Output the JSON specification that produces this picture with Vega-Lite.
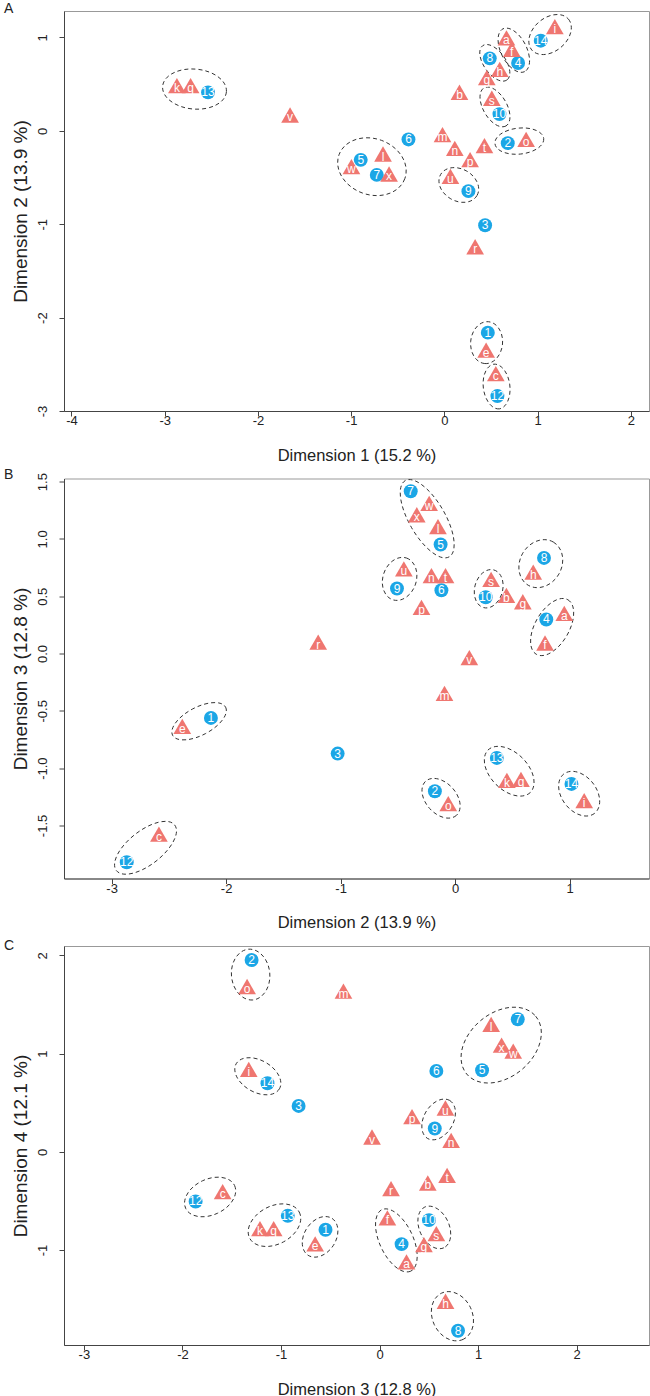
{
  "$schema": "https://vega.github.io/schema/vega-lite/v6.json",
  "padding": {"left": 3, "top": 1, "right": 0, "bottom": 0},
  "background": "white",
  "spacing": 67.5,
  "bounds": "flush",
  "resolve": {"scale": {"shape": "independent"}},
  "config": {
    "font": "Liberation Sans",
    "view": {"stroke": "#999999", "strokeWidth": 1},
    "axis": {"grid": false, "domainColor": "#444444", "tickColor": "#444444", "tickSize": 5, "labelFontSize": 13, "labelColor": "#222222", "titleFontWeight": "normal", "titleColor": "#222222", "labelFlush": false, "labelOverlap": false, "labelExpr": "replace(datum.label, '\u2212', '-')"},
    "axisX": {"titleFontSize": 16.5, "labelPadding": -1.5, "titlePadding": 19.5},
    "axisY": {"titleFontSize": 19, "labelAngle": -90, "labelPadding": 9.5, "titlePadding": 6.5},
    "title": {"fontSize": 14, "fontWeight": "normal", "anchor": "start", "frame": "group", "dx": -60, "color": "#222222"}
  },
  "datasets": {
    "pts": [
      {"p":"A","id":"1","t":"c","x":0.466,"y":-2.161},
      {"p":"A","id":"2","t":"c","x":0.680,"y":-0.132},
      {"p":"A","id":"3","t":"c","x":0.437,"y":-1.011},
      {"p":"A","id":"4","t":"c","x":0.791,"y":0.726},
      {"p":"A","id":"5","t":"c","x":-0.897,"y":-0.311},
      {"p":"A","id":"6","t":"c","x":-0.385,"y":-0.092},
      {"p":"A","id":"7","t":"c","x":-0.725,"y":-0.472},
      {"p":"A","id":"8","t":"c","x":0.487,"y":0.776},
      {"p":"A","id":"9","t":"c","x":0.258,"y":-0.646},
      {"p":"A","id":"10","t":"c","x":0.591,"y":0.179},
      {"p":"A","id":"12","t":"c","x":0.569,"y":-2.840},
      {"p":"A","id":"13","t":"c","x":-2.535,"y":0.412},
      {"p":"A","id":"14","t":"c","x":1.034,"y":0.965},
      {"p":"A","id":"a","t":"t","x":0.666,"y":0.969},
      {"p":"A","id":"b","t":"t","x":0.162,"y":0.386},
      {"p":"A","id":"c","t":"t","x":0.552,"y":-2.626},
      {"p":"A","id":"e","t":"t","x":0.448,"y":-2.375},
      {"p":"A","id":"f","t":"t","x":0.723,"y":0.847},
      {"p":"A","id":"g","t":"t","x":0.455,"y":0.543},
      {"p":"A","id":"h","t":"t","x":0.594,"y":0.632},
      {"p":"A","id":"i","t":"t","x":1.185,"y":1.088},
      {"p":"A","id":"k","t":"t","x":-2.869,"y":0.458},
      {"p":"A","id":"l","t":"t","x":-0.658,"y":-0.275},
      {"p":"A","id":"m","t":"t","x":-0.020,"y":-0.068},
      {"p":"A","id":"n","t":"t","x":0.112,"y":-0.214},
      {"p":"A","id":"o","t":"t","x":0.877,"y":-0.118},
      {"p":"A","id":"p","t":"t","x":0.276,"y":-0.335},
      {"p":"A","id":"q","t":"t","x":-2.722,"y":0.458},
      {"p":"A","id":"r","t":"t","x":0.330,"y":-1.268},
      {"p":"A","id":"s","t":"t","x":0.509,"y":0.322},
      {"p":"A","id":"t","t":"t","x":0.430,"y":-0.185},
      {"p":"A","id":"u","t":"t","x":0.065,"y":-0.514},
      {"p":"A","id":"v","t":"t","x":-1.655,"y":0.143},
      {"p":"A","id":"w","t":"t","x":-0.997,"y":-0.410},
      {"p":"A","id":"x","t":"t","x":-0.593,"y":-0.489},
      {"p":"B","id":"1","t":"c","x":-2.133,"y":-0.562},
      {"p":"B","id":"2","t":"c","x":-0.177,"y":-1.202},
      {"p":"B","id":"3","t":"c","x":-1.026,"y":-0.873},
      {"p":"B","id":"4","t":"c","x":0.796,"y":0.297},
      {"p":"B","id":"5","t":"c","x":-0.127,"y":0.951},
      {"p":"B","id":"6","t":"c","x":-0.120,"y":0.552},
      {"p":"B","id":"7","t":"c","x":-0.388,"y":1.416},
      {"p":"B","id":"8","t":"c","x":0.776,"y":0.834},
      {"p":"B","id":"9","t":"c","x":-0.508,"y":0.567},
      {"p":"B","id":"10","t":"c","x":0.267,"y":0.491},
      {"p":"B","id":"12","t":"c","x":-2.868,"y":-1.821},
      {"p":"B","id":"13","t":"c","x":0.364,"y":-0.911},
      {"p":"B","id":"14","t":"c","x":1.016,"y":-1.138},
      {"p":"B","id":"a","t":"t","x":0.953,"y":0.328},
      {"p":"B","id":"b","t":"t","x":0.448,"y":0.485},
      {"p":"B","id":"c","t":"t","x":-2.587,"y":-1.597},
      {"p":"B","id":"e","t":"t","x":-2.383,"y":-0.658},
      {"p":"B","id":"f","t":"t","x":0.785,"y":0.070},
      {"p":"B","id":"g","t":"t","x":0.591,"y":0.430},
      {"p":"B","id":"h","t":"t","x":0.682,"y":0.689},
      {"p":"B","id":"i","t":"t","x":1.127,"y":-1.306},
      {"p":"B","id":"k","t":"t","x":0.452,"y":-1.129},
      {"p":"B","id":"l","t":"t","x":-0.150,"y":1.085},
      {"p":"B","id":"m","t":"t","x":-0.093,"y":-0.370},
      {"p":"B","id":"n","t":"t","x":-0.207,"y":0.657},
      {"p":"B","id":"o","t":"t","x":-0.060,"y":-1.332},
      {"p":"B","id":"p","t":"t","x":-0.294,"y":0.380},
      {"p":"B","id":"q","t":"t","x":0.575,"y":-1.120},
      {"p":"B","id":"r","t":"t","x":-1.196,"y":0.078},
      {"p":"B","id":"s","t":"t","x":0.314,"y":0.625},
      {"p":"B","id":"t","t":"t","x":-0.084,"y":0.657},
      {"p":"B","id":"u","t":"t","x":-0.448,"y":0.716},
      {"p":"B","id":"v","t":"t","x":0.124,"y":-0.058},
      {"p":"B","id":"w","t":"t","x":-0.227,"y":1.288},
      {"p":"B","id":"x","t":"t","x":-0.335,"y":1.189},
      {"p":"C","id":"1","t":"c","x":-0.548,"y":-0.794},
      {"p":"C","id":"2","t":"c","x":-1.298,"y":1.952},
      {"p":"C","id":"3","t":"c","x":-0.821,"y":0.467},
      {"p":"C","id":"4","t":"c","x":0.224,"y":-0.940},
      {"p":"C","id":"5","t":"c","x":1.041,"y":0.830},
      {"p":"C","id":"6","t":"c","x":0.577,"y":0.823},
      {"p":"C","id":"7","t":"c","x":1.403,"y":1.349},
      {"p":"C","id":"8","t":"c","x":0.797,"y":-1.822},
      {"p":"C","id":"9","t":"c","x":0.561,"y":0.237},
      {"p":"C","id":"10","t":"c","x":0.502,"y":-0.696},
      {"p":"C","id":"12","t":"c","x":-1.866,"y":-0.506},
      {"p":"C","id":"13","t":"c","x":-0.931,"y":-0.652},
      {"p":"C","id":"14","t":"c","x":-1.137,"y":0.698},
      {"p":"C","id":"a","t":"t","x":0.274,"y":-1.147},
      {"p":"C","id":"b","t":"t","x":0.490,"y":-0.343},
      {"p":"C","id":"c","t":"t","x":-1.592,"y":-0.431},
      {"p":"C","id":"e","t":"t","x":-0.653,"y":-0.963},
      {"p":"C","id":"f","t":"t","x":0.080,"y":-0.699},
      {"p":"C","id":"g","t":"t","x":0.451,"y":-0.971},
      {"p":"C","id":"h","t":"t","x":0.670,"y":-1.547},
      {"p":"C","id":"i","t":"t","x":-1.327,"y":0.813},
      {"p":"C","id":"k","t":"t","x":-1.213,"y":-0.808},
      {"p":"C","id":"l","t":"t","x":1.133,"y":1.271},
      {"p":"C","id":"m","t":"t","x":-0.366,"y":1.610},
      {"p":"C","id":"n","t":"t","x":0.727,"y":0.091},
      {"p":"C","id":"o","t":"t","x":-1.344,"y":1.657},
      {"p":"C","id":"p","t":"t","x":0.330,"y":0.332},
      {"p":"C","id":"q","t":"t","x":-1.074,"y":-0.808},
      {"p":"C","id":"r","t":"t","x":0.117,"y":-0.401},
      {"p":"C","id":"s","t":"t","x":0.577,"y":-0.859},
      {"p":"C","id":"t","t":"t","x":0.686,"y":-0.265},
      {"p":"C","id":"u","t":"t","x":0.669,"y":0.420},
      {"p":"C","id":"v","t":"t","x":-0.076,"y":0.125},
      {"p":"C","id":"w","t":"t","x":1.357,"y":1.000},
      {"p":"C","id":"x","t":"t","x":1.239,"y":1.061}
    ],
    "ells": [
      {"p":"A","e":"A1","x":-2.680,"y":0.447},
      {"p":"A","e":"A2","x":1.134,"y":1.031},
      {"p":"A","e":"A3","x":0.745,"y":0.863},
      {"p":"A","e":"A4","x":0.541,"y":0.728},
      {"p":"A","e":"A5","x":0.543,"y":0.256},
      {"p":"A","e":"A6","x":0.804,"y":-0.110},
      {"p":"A","e":"A7","x":-0.777,"y":-0.384},
      {"p":"A","e":"A8","x":0.155,"y":-0.580},
      {"p":"A","e":"A9","x":0.453,"y":-2.268},
      {"p":"A","e":"A10","x":0.560,"y":-2.738},
      {"p":"B","e":"B1","x":-0.244,"y":1.176},
      {"p":"B","e":"B2","x":-0.485,"y":0.651},
      {"p":"B","e":"B3","x":0.293,"y":0.565},
      {"p":"B","e":"B4","x":0.748,"y":0.784},
      {"p":"B","e":"B5","x":0.847,"y":0.231},
      {"p":"B","e":"B6","x":-2.236,"y":-0.591},
      {"p":"B","e":"B7","x":0.472,"y":-1.027},
      {"p":"B","e":"B8","x":1.083,"y":-1.223},
      {"p":"B","e":"B9","x":-0.123,"y":-1.263},
      {"p":"B","e":"B10","x":-2.704,"y":-1.695},
      {"p":"C","e":"C1","x":-1.308,"y":1.804},
      {"p":"C","e":"C2","x":1.235,"y":1.086},
      {"p":"C","e":"C3","x":-1.235,"y":0.769},
      {"p":"C","e":"C4","x":0.600,"y":0.329},
      {"p":"C","e":"C5","x":-1.719,"y":-0.460},
      {"p":"C","e":"C6","x":-1.066,"y":-0.747},
      {"p":"C","e":"C7","x":-0.603,"y":-0.866},
      {"p":"C","e":"C8","x":0.171,"y":-0.902},
      {"p":"C","e":"C9","x":0.556,"y":-0.770},
      {"p":"C","e":"C10","x":0.740,"y":-1.674}
    ]
  },
  "vconcat": [
    {
      "width": 585, "height": 400,
      "title": {"text": "A", "offset": -5},
      "layer": [
        {"mark": {"type": "rule", "strokeDash": [1.5, 2], "color": "#111111", "strokeWidth": 1},
         "encoding": {"x": {"datum": 0, "type": "quantitative", "scale": {"domain": [-4.08, 2.195], "zero": false, "nice": false}, "axis": {"title": "Dimension 1 (15.2 %)", "values": [-4, -3, -2, -1, 0, 1, 2], "format": "d"}}}},
        {"mark": {"type": "rule", "strokeDash": [1.5, 2], "color": "#111111", "strokeWidth": 1},
         "encoding": {"y": {"datum": 0, "type": "quantitative", "scale": {"domain": [-3.0, 1.283], "zero": false, "nice": false}, "axis": {"title": "Dimension 2 (13.9 %)", "values": [-3, -2, -1, 0, 1], "format": "d"}}}},
        {"data": {"name": "ells"}, "transform": [{"filter": "datum.p == 'A'"}],
         "mark": {"type": "point", "size": 4, "filled": false, "stroke": "#333333", "strokeWidth": 1, "strokeDash": [4, 3], "opacity": 1},
         "encoding": {
           "x": {"field": "x", "type": "quantitative"},
           "y": {"field": "y", "type": "quantitative"},
           "shape": {"field": "e", "type": "nominal", "legend": null, "scale": {
             "domain": ["A1","A2","A3","A4","A5","A6","A7","A8","A9","A10"],
             "range": [
               "M 31.88 2.79 A 32 20 5 0 1 -31.88 -2.79 A 32 20 5 0 1 31.88 2.79 Z",
               "M 18.38 -15.43 A 24 17 -40 0 1 -18.38 15.43 A 24 17 -40 0 1 18.38 -15.43 Z",
               "M 10.9 21.38 A 24 13 63 0 1 -10.9 -21.38 A 24 13 63 0 1 10.9 21.38 Z",
               "M 12.05 17.2 A 21 11 55 0 1 -12.05 -17.2 A 21 11 55 0 1 12.05 17.2 Z",
               "M 11 19.05 A 22 12 60 0 1 -11 -19.05 A 22 12 60 0 1 11 19.05 Z",
               "M 24.37 -2.56 A 24.5 13 -6 0 1 -24.37 2.56 A 24.5 13 -6 0 1 24.37 -2.56 Z",
               "M 32.89 11.97 A 35 28 20 0 1 -32.89 -11.97 A 35 28 20 0 1 32.89 11.97 Z",
               "M 18.19 10.5 A 21 16 30 0 1 -18.19 -10.5 A 21 16 30 0 1 18.19 10.5 Z",
               "M -1.83 20.92 A 21 16 95 0 1 1.83 -20.92 A 21 16 95 0 1 -1.83 20.92 Z",
               "M 2.74 22.33 A 22.5 13.5 83 0 1 -2.74 -22.33 A 22.5 13.5 83 0 1 2.74 22.33 Z"
             ]}}
         }},
        {"data": {"name": "pts"}, "transform": [{"filter": "datum.p == 'A' && datum.t == 'c'"}],
         "mark": {"type": "circle", "size": 194, "color": "#1BA6E6", "opacity": 1},
         "encoding": {"x": {"field": "x", "type": "quantitative"}, "y": {"field": "y", "type": "quantitative"}}},
        {"data": {"name": "pts"}, "transform": [{"filter": "datum.p == 'A' && datum.t == 't'"}],
         "mark": {"type": "point", "shape": "triangle-up", "filled": true, "size": 313, "color": "#EF7670", "opacity": 1, "yOffset": -2.5},
         "encoding": {"x": {"field": "x", "type": "quantitative"}, "y": {"field": "y", "type": "quantitative"}}},
        {"data": {"name": "pts"}, "transform": [{"filter": "datum.p == 'A'"}],
         "mark": {"type": "text", "color": "white", "fontSize": 12, "align": "center", "baseline": "middle"},
         "encoding": {"x": {"field": "x", "type": "quantitative"}, "y": {"field": "y", "type": "quantitative"}, "text": {"field": "id"}}}
      ]
    },
    {
      "width": 585, "height": 400,
      "title": {"text": "B", "offset": -9},
      "layer": [
        {"mark": {"type": "rule", "strokeDash": [1.5, 2], "color": "#111111", "strokeWidth": 1},
         "encoding": {"x": {"datum": 0, "type": "quantitative", "scale": {"domain": [-3.416, 1.693], "zero": false, "nice": false}, "axis": {"title": "Dimension 2 (13.9 %)", "values": [-3, -2, -1, 0, 1], "format": "d"}}}},
        {"mark": {"type": "rule", "strokeDash": [1.5, 2], "color": "#111111", "strokeWidth": 1},
         "encoding": {"y": {"datum": 0, "type": "quantitative", "scale": {"domain": [-1.963, 1.527], "zero": false, "nice": false}, "axis": {"title": "Dimension 3 (12.8 %)", "values": [-1.5, -1, -0.5, 0, 0.5, 1, 1.5], "format": ".1f"}}}},
        {"data": {"name": "ells"}, "transform": [{"filter": "datum.p == 'B'"}],
         "mark": {"type": "point", "size": 4, "filled": false, "stroke": "#333333", "strokeWidth": 1, "strokeDash": [4, 3], "opacity": 1},
         "encoding": {
           "x": {"field": "x", "type": "quantitative"},
           "y": {"field": "y", "type": "quantitative"},
           "shape": {"field": "e", "type": "nominal", "legend": null, "scale": {
             "domain": ["B1","B2","B3","B4","B5","B6","B7","B8","B9","B10"],
             "range": [
               "M 22 38.11 A 44 18 60 0 1 -22 -38.11 A 44 18 60 0 1 22 38.11 Z",
               "M 6.8 -20.92 A 22 17 -72 0 1 -6.8 20.92 A 22 17 -72 0 1 6.8 -20.92 Z",
               "M 5.05 -18.84 A 19.5 14 -75 0 1 -5.05 18.84 A 19.5 14 -75 0 1 5.05 -18.84 Z",
               "M 12.5 -21.65 A 25 21 -60 0 1 -12.5 21.65 A 25 21 -60 0 1 12.5 -21.65 Z",
               "M 15.75 -27.28 A 31.5 17 -60 0 1 -15.75 27.28 A 31.5 17 -60 0 1 15.75 -27.28 Z",
               "M 26.49 -14.08 A 30 14 -28 0 1 -26.49 14.08 A 30 14 -28 0 1 26.49 -14.08 Z",
               "M 21.21 21.21 A 30 19 45 0 1 -21.21 -21.21 A 30 19 45 0 1 21.21 21.21 Z",
               "M 15.39 19.7 A 25 17.5 52 0 1 -15.39 -19.7 A 25 17.5 52 0 1 15.39 19.7 Z",
               "M 15.39 17.09 A 23 15.5 48 0 1 -15.39 -17.09 A 23 15.5 48 0 1 15.39 17.09 Z",
               "M 29.16 -22.78 A 37 17 -38 0 1 -29.16 22.78 A 37 17 -38 0 1 29.16 -22.78 Z"
             ]}}
         }},
        {"data": {"name": "pts"}, "transform": [{"filter": "datum.p == 'B' && datum.t == 'c'"}],
         "mark": {"type": "circle", "size": 194, "color": "#1BA6E6", "opacity": 1},
         "encoding": {"x": {"field": "x", "type": "quantitative"}, "y": {"field": "y", "type": "quantitative"}}},
        {"data": {"name": "pts"}, "transform": [{"filter": "datum.p == 'B' && datum.t == 't'"}],
         "mark": {"type": "point", "shape": "triangle-up", "filled": true, "size": 313, "color": "#EF7670", "opacity": 1, "yOffset": -2.5},
         "encoding": {"x": {"field": "x", "type": "quantitative"}, "y": {"field": "y", "type": "quantitative"}}},
        {"data": {"name": "pts"}, "transform": [{"filter": "datum.p == 'B'"}],
         "mark": {"type": "text", "color": "white", "fontSize": 12, "align": "center", "baseline": "middle"},
         "encoding": {"x": {"field": "x", "type": "quantitative"}, "y": {"field": "y", "type": "quantitative"}, "text": {"field": "id"}}}
      ]
    },
    {
      "width": 585, "height": 399,
      "title": {"text": "C", "offset": -7},
      "layer": [
        {"mark": {"type": "rule", "strokeDash": [1.5, 2], "color": "#111111", "strokeWidth": 1},
         "encoding": {"x": {"datum": 0, "type": "quantitative", "scale": {"domain": [-3.202, 2.735], "zero": false, "nice": false}, "axis": {"title": "Dimension 3 (12.8 %)", "values": [-3, -2, -1, 0, 1, 2], "format": "d"}}}},
        {"mark": {"type": "rule", "strokeDash": [1.5, 2], "color": "#111111", "strokeWidth": 1},
         "encoding": {"y": {"datum": 0, "type": "quantitative", "scale": {"domain": [-1.967, 2.095], "zero": false, "nice": false}, "axis": {"title": "Dimension 4 (12.1 %)", "values": [-1, 0, 1, 2], "format": "d"}}}},
        {"data": {"name": "ells"}, "transform": [{"filter": "datum.p == 'C'"}],
         "mark": {"type": "point", "size": 4, "filled": false, "stroke": "#333333", "strokeWidth": 1, "strokeDash": [4, 3], "opacity": 1},
         "encoding": {
           "x": {"field": "x", "type": "quantitative"},
           "y": {"field": "y", "type": "quantitative"},
           "shape": {"field": "e", "type": "nominal", "legend": null, "scale": {
             "domain": ["C1","C2","C3","C4","C5","C6","C7","C8","C9","C10"],
             "range": [
               "M 2.22 25.4 A 25.5 19.5 85 0 1 -2.22 -25.4 A 25.5 19.5 85 0 1 2.22 25.4 Z",
               "M 34.47 -28.93 A 45 32 -40 0 1 -34.47 28.93 A 45 32 -40 0 1 34.47 -28.93 Z",
               "M 21.65 12.5 A 25 16 30 0 1 -21.65 -12.5 A 25 16 30 0 1 21.65 12.5 Z",
               "M 11 -19.05 A 22 15 -60 0 1 -11 19.05 A 22 15 -60 0 1 11 -19.05 Z",
               "M 24.47 -11.41 A 27 18 -25 0 1 -24.47 11.41 A 27 18 -25 0 1 24.47 -11.41 Z",
               "M 24.72 -13.15 A 28 19 -28 0 1 -24.72 13.15 A 28 19 -28 0 1 24.72 -13.15 Z",
               "M 11.98 -18.45 A 22 16 -57 0 1 -11.98 18.45 A 22 16 -57 0 1 11.98 -18.45 Z",
               "M 14.37 30.81 A 34 17 65 0 1 -14.37 -30.81 A 34 17 65 0 1 14.37 30.81 Z",
               "M 9.51 20.39 A 22.5 15 65 0 1 -9.51 -20.39 A 22.5 15 65 0 1 9.51 20.39 Z",
               "M 10.78 23.11 A 25.5 20 65 0 1 -10.78 -23.11 A 25.5 20 65 0 1 10.78 23.11 Z"
             ]}}
         }},
        {"data": {"name": "pts"}, "transform": [{"filter": "datum.p == 'C' && datum.t == 'c'"}],
         "mark": {"type": "circle", "size": 194, "color": "#1BA6E6", "opacity": 1},
         "encoding": {"x": {"field": "x", "type": "quantitative"}, "y": {"field": "y", "type": "quantitative"}}},
        {"data": {"name": "pts"}, "transform": [{"filter": "datum.p == 'C' && datum.t == 't'"}],
         "mark": {"type": "point", "shape": "triangle-up", "filled": true, "size": 313, "color": "#EF7670", "opacity": 1, "yOffset": -2.5},
         "encoding": {"x": {"field": "x", "type": "quantitative"}, "y": {"field": "y", "type": "quantitative"}}},
        {"data": {"name": "pts"}, "transform": [{"filter": "datum.p == 'C'"}],
         "mark": {"type": "text", "color": "white", "fontSize": 12, "align": "center", "baseline": "middle"},
         "encoding": {"x": {"field": "x", "type": "quantitative"}, "y": {"field": "y", "type": "quantitative"}, "text": {"field": "id"}}}
      ]
    }
  ]
}
